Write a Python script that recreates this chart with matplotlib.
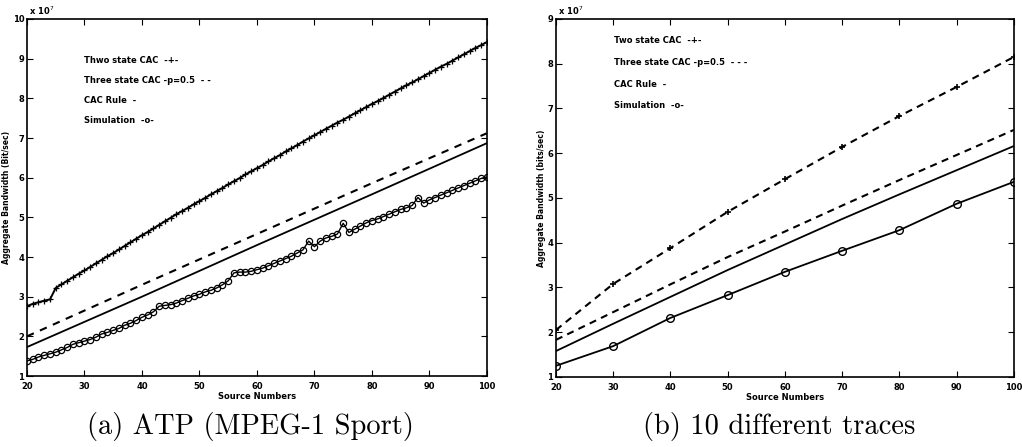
import matplotlib
matplotlib.use("Agg")
import matplotlib.pyplot as plt

# left panel: ATP (MPEG-1 Sport), one point per source number 20..100
src_a = list(range(20, 101))
two_state_a = [2.76, 2.82, 2.86, 2.90, 2.93, 3.22, 3.31, 3.40, 3.49, 3.58,
               3.66, 3.75, 3.84, 3.93, 4.02, 4.10, 4.19, 4.28, 4.37, 4.46,
               4.55, 4.63, 4.72, 4.81, 4.90, 4.99, 5.08, 5.16, 5.24, 5.33,
               5.41, 5.49, 5.58, 5.66, 5.74, 5.83, 5.91, 5.99, 6.08, 6.16,
               6.24, 6.32, 6.41, 6.49, 6.57, 6.66, 6.74, 6.82, 6.91, 6.99,
               7.07, 7.15, 7.23, 7.31, 7.39, 7.46, 7.54, 7.62, 7.70, 7.78,
               7.86, 7.93, 8.01, 8.09, 8.17, 8.25, 8.33, 8.40, 8.48, 8.56,
               8.64, 8.72, 8.80, 8.87, 8.95, 9.03, 9.11, 9.19, 9.27, 9.34,
               9.42]
sim_a = [1.38, 1.42, 1.48, 1.52, 1.56, 1.60, 1.66, 1.72, 1.80, 1.84,
         1.88, 1.92, 1.98, 2.06, 2.10, 2.15, 2.20, 2.28, 2.33, 2.40,
         2.48, 2.54, 2.62, 2.76, 2.78, 2.80, 2.84, 2.90, 2.96, 3.02,
         3.06, 3.12, 3.16, 3.22, 3.30, 3.40, 3.60, 3.62, 3.62, 3.64,
         3.68, 3.72, 3.78, 3.84, 3.90, 3.96, 4.02, 4.10, 4.18, 4.40,
         4.26, 4.40, 4.48, 4.52, 4.58, 4.85, 4.62, 4.70, 4.78, 4.86,
         4.92, 4.96, 5.02, 5.08, 5.14, 5.20, 5.24, 5.30, 5.50, 5.36,
         5.44, 5.50, 5.56, 5.62, 5.68, 5.74, 5.80, 5.86, 5.92, 5.98,
         6.02]
src_a_lines = [20, 40, 60, 80, 100]
three_state_a = [2.00, 3.30, 4.58, 5.86, 7.12]
cac_rule_a = [1.73, 3.00, 4.30, 5.58, 6.87]

# right panel: 10 different traces
src_b = [20, 30, 40, 50, 60, 70, 80, 90, 100]
two_state_b = [2.05, 3.08, 3.88, 4.69, 5.42, 6.14, 6.83, 7.48, 8.15]
three_state_b = [1.83, 2.45, 3.07, 3.68, 4.25, 4.83, 5.40, 5.96, 6.52]
cac_rule_b = [1.58, 2.19, 2.79, 3.39, 3.96, 4.53, 5.08, 5.62, 6.16]
sim_b = [1.25, 1.69, 2.32, 2.83, 3.35, 3.82, 4.28, 4.87, 5.36]

legend_a = ["Thwo state CAC  -+-", "Three state CAC -p=0.5  - -",
            "CAC Rule  -", "Simulation  -o-"]
legend_b = ["Two state CAC  -+-", "Three state CAC -p=0.5  - - -",
            "CAC Rule  -", "Simulation  -o-"]

fig = plt.figure(figsize=(10.22, 4.47), dpi=100)
ax1 = fig.add_axes([0.0264, 0.1588, 0.450, 0.7987])
ax2 = fig.add_axes([0.544, 0.1566, 0.448, 0.801])

dash = (0, (3.6, 3.2))

# left
ax1.plot(src_a, two_state_a, color="black", lw=1.4, marker="+", ms=4, mew=0.9)
ax1.plot(src_a_lines, three_state_a, color="black", lw=1.5, ls=dash)
ax1.plot(src_a_lines, cac_rule_a, color="black", lw=1.3)
ax1.plot(src_a, sim_a, color="black", lw=1.0, marker="o", ms=4.5,
         mfc="none", mew=0.9)
ax1.set_ylim(1, 10)
ax1.set_yticks(range(1, 11))

# right
ax2.plot(src_b, two_state_b, color="black", lw=1.5, ls=(0, (3.4, 2.6)),
         marker="+", ms=5, mew=1.2)
ax2.plot(src_b, three_state_b, color="black", lw=1.5, ls=(0, (3.4, 2.6)))
ax2.plot(src_b, cac_rule_b, color="black", lw=1.3)
ax2.plot(src_b, sim_b, color="black", lw=1.3, marker="o", ms=5.5,
         mfc="none", mew=1.0)
ax2.set_ylim(1, 9)
ax2.set_yticks(range(1, 10))

for ax in (ax1, ax2):
    ax.set_xlim(20, 100)
    ax.set_xticks(range(20, 101, 10))
    ax.tick_params(direction="in", top=True, right=True, labelsize=6,
                   length=4, width=0.8, pad=2)
    ax.tick_params(axis="x", pad=4)
    for lab in ax.get_xticklabels() + ax.get_yticklabels():
        lab.set_fontweight("bold")
    for sp in ax.spines.values():
        sp.set_linewidth(1.2)
    ax.set_xlabel("Source Numbers", fontsize=6, fontweight="bold", labelpad=1)
    ax.text(0.005, 1.005, r"x 10$^7$", transform=ax.transAxes, fontsize=6,
            fontweight="bold", ha="left", va="bottom")

ax1.set_ylabel("Aggregate Bandwidth (Bit/sec)", fontsize=5.5,
               fontweight="bold", labelpad=1)
ax2.set_ylabel("Aggregate Bandwidth (bits/sec)", fontsize=5.5,
               fontweight="bold", labelpad=1)

for i, txt in enumerate(legend_a):
    ax1.text(0.125, 0.885 - i * 0.056, txt, transform=ax1.transAxes,
             fontsize=6, fontweight="bold", va="center")
for i, txt in enumerate(legend_b):
    ax2.text(0.126, 0.94 - i * 0.061, txt, transform=ax2.transAxes,
             fontsize=6, fontweight="bold", va="center")

fig.text(0.2446, 0.045, "(a) ATP (MPEG-1 Sport)", family="cmr10",
         fontsize=20.5, ha="center", va="center")
fig.text(0.762, 0.045, "(b) 10 different traces", family="cmr10",
         fontsize=20.5, ha="center", va="center")

fig.savefig("out.png", dpi=100)
